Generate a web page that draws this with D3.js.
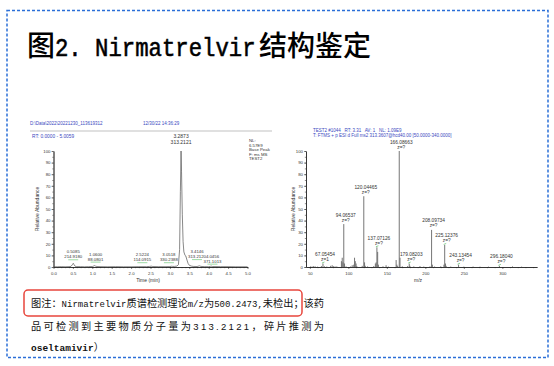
<!DOCTYPE html>
<html>
<head>
<meta charset="utf-8">
<script src="https://cdn.jsdelivr.net/npm/d3@7"></script>
<style>
  body { margin: 0; background: #fff; }
  svg { display: block; }
</style>
</head>
<body>
<svg id="chart" width="554" height="366"></svg>
<script>
// chromatogram trace (left panel)
const rtTime  = [0.00,0.10,0.20,0.30,0.40,0.45,0.49,0.51,0.53,0.56,0.60,0.70,0.80,0.90,1.00,1.04,1.06,1.08,1.12,1.20,1.40,1.60,1.80,2.00,2.20,2.40,2.48,2.52,2.56,2.70,2.90,3.00,3.04,3.05,3.07,3.12,3.18,3.22,3.25,3.27,3.2873,3.30,3.32,3.34,3.36,3.39,3.41,3.44,3.47,3.50,3.55,3.60,3.70,3.76,3.80,3.90,4.00,4.04,4.06,4.10,4.30,4.50,4.70,5.00];
const rtAbund = [0.2,0.2,0.3,0.2,0.3,0.5,2.2,3.2,2.0,0.6,0.3,0.3,0.2,0.3,0.4,0.9,1.2,0.8,0.4,0.3,0.2,0.3,0.2,0.2,0.3,0.3,0.5,0.7,0.4,0.3,0.3,0.4,0.6,0.7,0.5,0.5,0.8,2,15,65,100,82,45,22,13,10,9.5,6,3,1.5,0.8,0.5,0.4,1.0,0.5,0.3,0.3,0.5,0.8,0.4,0.3,0.3,0.2,0.2];

// labelled chromatogram peaks
const rtPeakTime  = ["0.5085","1.0600","2.5224","3.0518","3.2873","3.4146","4.0456"];
const rtPeakMass  = ["214.9180","88.0801","114.0915","330.2388","313.2121","313.2120","371.1013"];
const rtPeakLevel = [3.2, 1.2, 0.7, 0.7, 100, 2.5, 0.3];

const rtTicks = [0,0.5,1,1.5,2,2.5,3,3.5,4,4.5,5];
const abTicks = [0,10,20,30,40,50,60,70,80,90,100];

// MS2 spectrum (right panel)
const msMz  = [51,53,55,57,60,65,67.05454,69,72,77,79,81,83,85,91,92.05,93.07,94.06537,95.05,97,103,105,107,108.04,109.06,110.06,111,118,120.04465,121.05,122,125,133,135.06,136.08,137.07126,138.07,139,145,149,152,162.05,163.06,164,166.08663,167.09,170,177,179.08203,180,185,193,198,206,208.09734,209.1,212,220,224.1,225.12376,226.13,227,233,243.13454,250,262,271,282,296.1804,313.2,325];
const msInt = [0.5,0.4,0.8,0.5,0.3,0.8,3,0.6,0.4,1,1.5,0.8,0.4,0.5,5,8,4,37,3,0.6,0.5,1.5,2,8,5,3,0.8,1,61,4,1,0.5,0.8,3,4,17,13,2,0.6,1.5,0.4,6,2,0.8,100,8,0.6,0.8,3,1,0.5,0.8,0.4,0.6,32,2,0.4,0.6,2,19,3,1,0.4,2,0.3,0.4,0.3,0.3,1,0.5,0.3];

// labelled MS2 peaks
const msPeakMz = ["67.05454","94.06537","120.04465","137.07126","166.08663","179.08203","208.09734","225.12376","243.13454","296.18040"];
const msPeakZ  = ["z=1","z=?","z=?","z=?","z=?","z=?","z=?","z=?","z=?","z=?"];

const mzTicks = [50,100,150,200,250,300];

const svg = d3.select('#chart');
const blue = '#3a48c0';
const axisFont = 'Liberation Sans, Arial, sans-serif';
const cjk = '"Noto Sans CJK SC", sans-serif';
const mono = 'Liberation Mono, monospace';

// dashed frame
svg.append('rect')
  .attr('x', 7).attr('y', 10.5).attr('width', 541).attr('height', 347)
  .attr('fill', 'none').attr('stroke', '#2b6fd8')
  .attr('stroke-width', 1.5).attr('stroke-dasharray', '3,2');

// title: half-width latin in the middle, stretched up a bit
svg.append('text').attr('x', 27).attr('y', 56)
  .attr('font-family', cjk).attr('font-size', 28).attr('font-weight', 500)
  .text('图');
svg.append('text').attr('transform', 'translate(55,56) scale(1,1.15)')
  .attr('font-family', mono).attr('font-size', 22.3)
  .attr('stroke', '#000').attr('stroke-width', 0.5)
  .text('2. Nirmatrelvir');
svg.append('text').attr('x', 259).attr('y', 56)
  .attr('font-family', cjk).attr('font-size', 28).attr('font-weight', 500)
  .text('结构鉴定');

// small helper for the axis look
function styleAxis(g, size) {
  g.selectAll('path.domain').attr('stroke', '#222').attr('stroke-width', 0.7);
  g.selectAll('.tick line').attr('stroke', '#222').attr('stroke-width', 0.5);
  g.selectAll('.tick text').attr('font-size', size).attr('font-family', axisFont).attr('fill', '#333');
}

// ---------- left: chromatogram ----------
const rtX = d3.scaleLinear().domain([0, 5]).range([53.5, 247.5]);
const abY = d3.scaleLinear().domain([0, 100]).range([267, 151]);

const left = svg.append('g');

left.append('text').attr('x', 30).attr('y', 125)
  .attr('font-size', 4.5).attr('font-family', axisFont).attr('fill', blue)
  .text('D:\\Data\\2022\\20221230_113619312');
left.append('text').attr('x', 143).attr('y', 125)
  .attr('font-size', 4.5).attr('font-family', axisFont).attr('fill', blue)
  .text('12/30/22 14:36:29');
left.append('line').attr('x1', 30).attr('x2', 272).attr('y1', 131).attr('y2', 131)
  .attr('stroke', '#999').attr('stroke-width', 0.6);
left.append('text').attr('x', 32).attr('y', 137.5)
  .attr('font-size', 4.8).attr('font-family', axisFont).attr('fill', blue)
  .text('RT: 0.0000 - 5.0059');

['NL:', '6.57E9', 'Base Peak', 'F: ms MS', 'TEST2'].forEach((t, i) => {
  left.append('text').attr('x', 249).attr('y', 142 + i * 4.6)
    .attr('font-size', 4.3).attr('font-family', axisFont).attr('fill', '#333').text(t);
});

// minor ticks first, then majors
left.append('g').attr('transform', 'translate(0,267)')
  .call(d3.axisBottom(rtX).tickValues(d3.range(0, 5.001, 0.1)).tickFormat('').tickSize(1.2).tickSizeOuter(0))
  .call(g => styleAxis(g, 4.3));
left.append('g').attr('transform', 'translate(0,267)')
  .call(d3.axisBottom(rtX).tickValues(rtTicks).tickFormat(d3.format('.1f')).tickSize(2).tickPadding(3).tickSizeOuter(0))
  .call(g => styleAxis(g, 4.3));
left.append('g').attr('transform', 'translate(53.5,0)')
  .call(d3.axisLeft(abY).tickValues(d3.range(0, 101, 5)).tickFormat('').tickSize(1.2).tickSizeOuter(0))
  .call(g => styleAxis(g, 4.3));
left.append('g').attr('transform', 'translate(53.5,0)')
  .call(d3.axisLeft(abY).tickValues(abTicks).tickSize(2).tickPadding(1).tickSizeOuter(0))
  .call(g => styleAxis(g, 4.3));

left.append('text').attr('transform', 'translate(39,209) rotate(-90)')
  .attr('text-anchor', 'middle').attr('font-size', 5).attr('font-family', axisFont).attr('fill', '#333')
  .text('Relative Abundance');
left.append('text').attr('x', 148).attr('y', 282)
  .attr('text-anchor', 'middle').attr('font-size', 5).attr('font-family', axisFont).attr('fill', '#333')
  .text('Time (min)');

const trace = d3.line().x((d, i) => rtX(rtTime[i])).y(d => abY(d));
left.append('path').datum(rtAbund)
  .attr('d', trace).attr('fill', 'none').attr('stroke', '#555').attr('stroke-width', 0.7);

// peak labels; nudges keep them off the big peak
const rtNudge = [0, 1, -9, -3, 0, 11, 2];
const rtLift  = [5, 5, 5, 5, 7, 6, 4];
rtPeakTime.forEach((t, i) => {
  const x = rtX(+t) + rtNudge[i];
  const y = abY(rtPeakLevel[i]) - rtLift[i];
  const fs = i === 4 ? 5 : 4.3;
  const lbl = left.append('text').attr('text-anchor', 'middle')
    .attr('font-size', fs).attr('font-family', axisFont).attr('fill', '#333');
  lbl.append('tspan').attr('x', x).attr('y', y - fs - 0.6).text(t);
  lbl.append('tspan').attr('x', x).attr('y', y).text(rtPeakMass[i]);
  if (i !== 4) {
    left.append('line').attr('x1', x - 5).attr('x2', x + 5)
      .attr('y1', y + 1.5).attr('y2', y + 1.5)
      .attr('stroke', '#3cb44b').attr('stroke-width', 0.5);
  }
});

// ---------- right: MS2 spectrum ----------
const mzX = d3.scaleLinear().domain([45, 345]).range([306, 537]);
const right = svg.append('g');

right.append('text').attr('x', 313).attr('y', 131.5)
  .attr('font-size', 4.5).attr('font-family', axisFont).attr('fill', blue).attr('xml:space', 'preserve')
  .text('TEST2 #1044   RT: 3.31   AV: 1   NL: 1.09E9');
right.append('text').attr('x', 313).attr('y', 136.5)
  .attr('font-size', 4.5).attr('font-family', axisFont).attr('fill', blue)
  .text('T: FTMS + p ESI d Full ms2 313.3607@hcd40.00 [50.0000-340.0000]');

right.append('g').attr('transform', 'translate(0,267)')
  .call(d3.axisBottom(mzX).tickValues(d3.range(50, 341, 10)).tickFormat('').tickSize(1.2).tickSizeOuter(0))
  .call(g => styleAxis(g, 4.3));
right.append('g').attr('transform', 'translate(0,267)')
  .call(d3.axisBottom(mzX).tickValues(mzTicks).tickSize(2).tickPadding(3).tickSizeOuter(0))
  .call(g => styleAxis(g, 4.3));
right.append('g').attr('transform', 'translate(306,0)')
  .call(d3.axisLeft(abY).tickValues(d3.range(0, 101, 5)).tickFormat('').tickSize(1.2).tickSizeOuter(0))
  .call(g => styleAxis(g, 4.3));
right.append('g').attr('transform', 'translate(306,0)')
  .call(d3.axisLeft(abY).tickValues(abTicks).tickSize(2).tickPadding(1).tickSizeOuter(0))
  .call(g => styleAxis(g, 4.3));

right.append('text').attr('transform', 'translate(295,209) rotate(-90)')
  .attr('text-anchor', 'middle').attr('font-size', 5).attr('font-family', axisFont).attr('fill', '#333')
  .text('Relative Abundance');
right.append('text').attr('x', 418).attr('y', 282)
  .attr('text-anchor', 'middle').attr('font-size', 5).attr('font-family', axisFont).attr('fill', '#333')
  .text('m/z');

right.selectAll('line.bar').data(msMz).enter().append('line')
  .attr('class', 'bar')
  .attr('x1', d => mzX(d)).attr('x2', d => mzX(d))
  .attr('y1', abY(0)).attr('y2', (d, i) => abY(msInt[i]))
  .attr('stroke', '#666').attr('stroke-width', 0.9);

msPeakMz.forEach((m, i) => {
  const k = msMz.indexOf(+m);
  const x = mzX(+m) + 2;
  const top = abY(msInt[k]);
  const lbl = right.append('text').attr('text-anchor', 'middle')
    .attr('font-size', 4.8).attr('font-family', axisFont).attr('fill', '#333');
  lbl.append('tspan').attr('x', x).attr('y', top - 7.5).text(m);
  lbl.append('tspan').attr('x', x).attr('y', top - 2.5).text(msPeakZ[i]);
  if (msInt[k] < 20) {
    right.append('line').attr('x1', mzX(+m) - 1).attr('x2', mzX(+m) + 1.5)
      .attr('y1', top - 0.5).attr('y2', top - 1.5)
      .attr('stroke', '#3cb44b').attr('stroke-width', 0.6);
  }
});

// ---------- caption ----------
svg.append('rect')
  .attr('x', 24).attr('y', 290).attr('width', 278).attr('height', 26).attr('rx', 4)
  .attr('fill', 'none').attr('stroke', '#e8463c').attr('stroke-width', 1.5);

const cap1 = svg.append('text').attr('x', 31).attr('y', 307)
  .attr('font-family', cjk).attr('font-size', 10.2).attr('fill', '#111')
  .attr('textLength', 293).attr('lengthAdjust', 'spacing');
cap1.append('tspan').text('图注：');
cap1.append('tspan').attr('font-family', mono).attr('font-size', 9).text('Nirmatrelvir');
cap1.append('tspan').text('质谱检测理论');
cap1.append('tspan').attr('font-family', mono).attr('font-size', 9).text('m/z');
cap1.append('tspan').text('为');
cap1.append('tspan').attr('font-family', mono).attr('font-size', 9).text('500.2473,');
cap1.append('tspan').text('未检出；该药');

const cap2 = svg.append('text').attr('x', 31).attr('y', 329.5)
  .attr('font-family', cjk).attr('font-size', 10.2).attr('fill', '#111')
  .attr('textLength', 293).attr('lengthAdjust', 'spacing');
cap2.append('tspan').text('品可检测到主要物质分子量为');
cap2.append('tspan').attr('font-family', 'Liberation Sans, sans-serif').attr('font-size', 9.5).text('313.2121');
cap2.append('tspan').text('，碎片推测为');

const cap3 = svg.append('text').attr('x', 31).attr('y', 351)
  .attr('font-family', cjk).attr('font-size', 10.2).attr('fill', '#111');
cap3.append('tspan').attr('font-family', mono).attr('font-size', 9.5).attr('font-weight', 'bold').text('oseltamivir');
cap3.append('tspan').text('）');
</script>
</body>
</html>
